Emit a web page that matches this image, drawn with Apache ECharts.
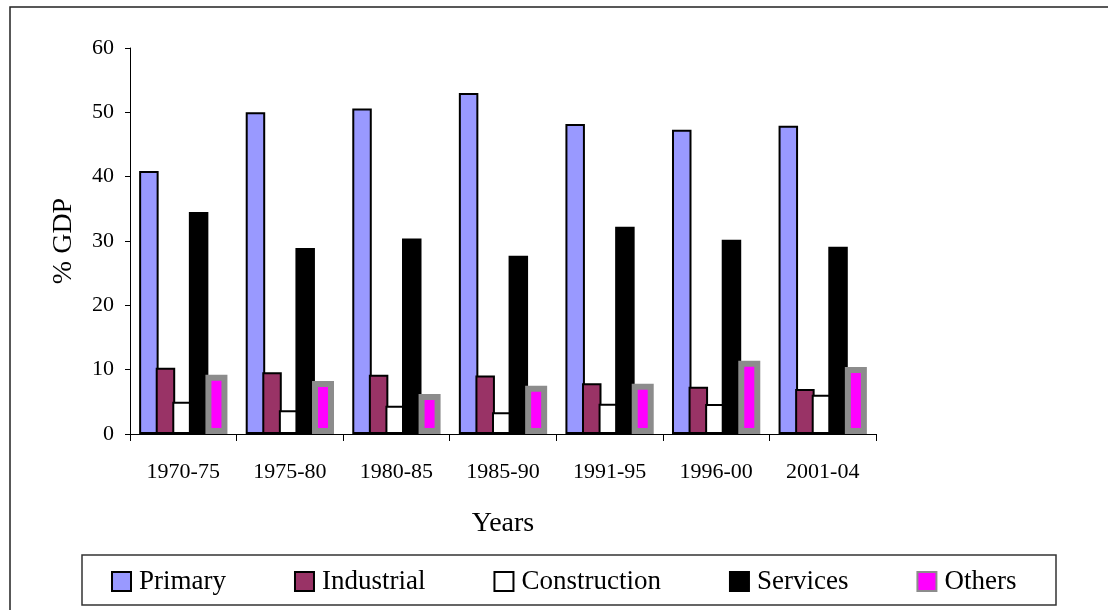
<!DOCTYPE html>
<html>
<head>
<meta charset="utf-8">
<script src="https://cdn.jsdelivr.net/npm/echarts@6/dist/echarts.min.js"></script>
<style>html,body{margin:0;padding:0;background:#fff}#c{width:1108px;height:610px}</style>
</head>
<body>
<div id="c"></div>
<script>
const categories = ['1970-75','1975-80','1980-85','1985-90','1991-95','1996-00','2001-04'];
const primary = [40.9, 50.0, 50.6, 53.0, 48.2, 47.3, 47.9];
const industrial = [10.3, 9.6, 9.2, 9.1, 7.9, 7.35, 7.0];
const construction = [5.0, 3.7, 4.4, 3.4, 4.7, 4.65, 6.1];
const services = [34.5, 28.9, 30.4, 27.7, 32.2, 30.2, 29.1];
const others = [9.2, 8.25, 6.2, 7.5, 7.8, 11.4, 10.4];
const yTicks = [0, 10, 20, 30, 40, 50, 60];

const FONT = 'Liberation Serif';
const chart = echarts.init(document.getElementById('c'));
function bar(name, data, color, border, bw, width) {
  return {
    name: name, type: 'bar', data: data, barWidth: width, barGap: '-15%',
    itemStyle: { color: color, borderColor: border, borderWidth: bw },
    emphasis: { disabled: true }
  };
}
chart.setOption({
  animation: false,
  backgroundColor: '#fff',
  textStyle: { fontFamily: FONT },
  grid: { left: 130, right: 232, top: 48, bottom: 176 },
  graphic: [
    { type: 'rect', shape: { x: 10, y: 7, width: 1200, height: 700 }, style: { fill: 'none', stroke: '#222', lineWidth: 1.5 }, silent: true },
    { type: 'rect', shape: { x: 82, y: 555, width: 974, height: 50 }, style: { fill: '#fff', stroke: '#333', lineWidth: 1.5 }, silent: true, z: 0 }
  ],
  legend: {
    left: 106, top: 563, icon: 'rect', itemWidth: 19, itemHeight: 19, itemGap: 68,
    textStyle: { fontFamily: FONT, fontSize: 27, color: '#000', padding: [0, 0, 0, 3] },
    data: ['Primary', 'Industrial', 'Construction', 'Services', 'Others'],
    z: 5
  },
  xAxis: {
    type: 'category', data: categories,
    name: 'Years', nameLocation: 'middle', nameGap: 76,
    nameTextStyle: { fontFamily: FONT, fontSize: 28, color: '#000' },
    axisLine: { lineStyle: { color: '#000', width: 1 } },
    axisTick: { show: true, length: 7, lineStyle: { color: '#000' } },
    axisLabel: { fontFamily: FONT, fontSize: 22, color: '#000', margin: 27 }
  },
  yAxis: {
    type: 'value', min: yTicks[0], max: yTicks[yTicks.length - 1], interval: 10,
    name: '% GDP', nameLocation: 'middle', nameGap: 52, nameRotate: 90,
    nameTextStyle: { fontFamily: FONT, fontSize: 28, color: '#000' },
    axisLine: { show: true, lineStyle: { color: '#000', width: 1 } },
    axisTick: { show: true, length: 5, lineStyle: { color: '#000' } },
    splitLine: { show: false },
    axisLabel: { fontFamily: FONT, fontSize: 22, color: '#000', margin: 16 }
  },
  series: [
    bar('Primary', primary, '#9999ff', '#000', 2, 19.5),
    bar('Industrial', industrial, '#993366', '#000', 2, 19.5),
    bar('Construction', construction, '#ffffff', '#000', 2, 19.5),
    bar('Services', services, '#000000', '#000', 2, 19.5),
    bar('Others', others, '#ff00ff', '#8c8c8c', 6, 22)
  ]
});
</script>
</body>
</html>
